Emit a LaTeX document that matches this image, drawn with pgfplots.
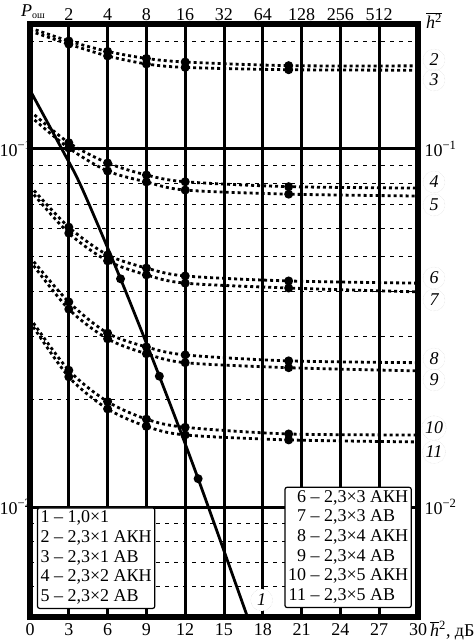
\documentclass[border=0pt]{standalone}
\usepackage{fontspec}
\setmainfont{Liberation Serif}
\usepackage{pgfplots}
\usepackage{pgfplotstable}
\pgfplotsset{compat=1.18}

% curve 1 (1,0x1)
\pgfplotstableread{
x y
0 0.146
2.46 0.100
4 0.078
7 0.0434
10 0.0232
13 0.0120
17.5 0.0042
}\tOne
\pgfplotstableread{
x a b
0 0.2178 0.2136
3 0.2003 0.1963
6 0.1873 0.1819
9 0.1790 0.1728
12 0.1750 0.1690
20 0.1709 0.1665
30 0.1707 0.1660
}\tTwo
\pgfplotstableread{
x a b
0 0.1277 0.1236
3 0.1041 0.1006
6 0.0914 0.0868
9 0.0846 0.0809
12 0.0810 0.0768
20 0.0785 0.0748
30 0.0778 0.0739
}\tFour
\pgfplotstableread{
x a b
0 0.0788 0.0768
3 0.0605 0.0582
6 0.0506 0.0487
9 0.0465 0.0445
12 0.0442 0.0422
20 0.0428 0.0409
30 0.0422 0.0399
}\tSix
\pgfplotstableread{
x a b
0 0.0499 0.0487
3 0.0374 0.0357
6 0.0306 0.0295
9 0.0280 0.0268
12 0.0266 0.0253
20 0.0256 0.0245
30 0.0253 0.0240
}\tEight
\pgfplotstableread{
x a b
0 0.0337 0.0329
3 0.0241 0.0231
6 0.0197 0.0188
9 0.0176 0.0168
12 0.0167 0.0159
20 0.0160 0.0154
30 0.0159 0.0152
}\tTen

\tikzset{
  pair/.style={black, line width=2.8pt, dash pattern=on 3pt off 3pt, smooth,
    mark=*, mark size=3pt, mark options={solid}, mark indices={2,3,4,5,6}},
  rlab/.style={font=\fontsize{18}{20}\selectfont\itshape, circle, draw=black!18,
    densely dotted, inner sep=1pt, minimum size=22pt},
}
\newcommand{\bigf}{\fontsize{18}{20}\selectfont}

\begin{document}
\begin{tikzpicture}
\useasboundingbox (0,0) rectangle (475pt,640pt);
\begin{axis}[
  at={(30pt,23pt)}, anchor=south west,
  width=388pt, height=593pt, scale only axis,
  xmin=0, xmax=30, ymode=log, ymin=0.00493, ymax=0.2234,
  xtick={0,3,...,30},
  ytick={0.01,0.1}, yticklabels={10\textsuperscript{−2},10\textsuperscript{−1}},
  minor ytick={0.006,0.007,0.008,0.009,0.02,0.03,0.04,0.05,0.06,0.07,0.08,0.09,0.2},
  grid=both,
  major grid style={line width=3pt, black},
  minor grid style={line width=1pt, black, dash pattern=on 4pt off 5pt},
  major tick length=0pt, minor tick length=0pt,
  axis line style={draw=none},
  tick label style={font=\bigf},
  xticklabel style={yshift=-3pt},
  yticklabel style={xshift=5pt},
  /pgf/number format/assume math mode=true,
  clip mode=individual,
]
\addplot[black, line width=2.8pt, smooth, mark=*, mark size=3pt, mark indices={4,5,6}] table[x=x,y=y] {\tOne};
\addplot[pair] table[x=x,y=a] {\tTwo};
\addplot[pair] table[x=x,y=b] {\tTwo};
\addplot[pair] table[x=x,y=a] {\tFour};
\addplot[pair] table[x=x,y=b] {\tFour};
\addplot[pair] table[x=x,y=a] {\tSix};
\addplot[pair] table[x=x,y=b] {\tSix};
\addplot[pair] table[x=x,y=a] {\tEight};
\addplot[pair] table[x=x,y=b] {\tEight};
\addplot[pair] table[x=x,y=a] {\tTen};
\addplot[pair] table[x=x,y=b] {\tTen};

\node[draw, fill=white, line width=1.2pt, rounded corners=2pt, anchor=south west,
  inner xsep=3pt, inner ysep=1pt, font=\fontsize{18}{19.7}\selectfont]
  at (rel axis cs:0.018,0.0135) {\begin{tabular}{@{}r@{\ –\ }l@{}}
  1&1,0×1\\ 2&2,3×1 АКН\\ 3&2,3×1 АВ\\ 4&2,3×2 АКН\\ 5&2,3×2 АВ\end{tabular}};
\node[draw, fill=white, line width=1.2pt, rounded corners=2pt, anchor=south east,
  inner xsep=3pt, inner ysep=1pt, font=\fontsize{18}{19.7}\selectfont]
  at (rel axis cs:0.984,0.015) {\begin{tabular}{@{}r@{\ –\ }l@{}}
  6&2,3×3 АКН\\ 7&2,3×3 АВ\\ 8&2,3×4 АКН\\ 9&2,3×4 АВ\\ 10&2,3×5 АКН\\ 11&2,3×5 АВ\end{tabular}};
\node[rlab, fill=white] at (rel axis cs:0.597,0.0287) {1};

\node[rlab] at (rel axis cs:1,0.9393) [xshift=16pt] {2};
\node[rlab] at (rel axis cs:1,0.9056) [xshift=16pt] {3};
\node[rlab] at (rel axis cs:1,0.7336) [xshift=16pt] {4};
\node[rlab] at (rel axis cs:1,0.6948) [xshift=16pt] {5};
\node[rlab] at (rel axis cs:1,0.5717) [xshift=16pt] {6};
\node[rlab] at (rel axis cs:1,0.5346) [xshift=16pt] {7};
\node[rlab] at (rel axis cs:1,0.4351) [xshift=16pt] {8};
\node[rlab] at (rel axis cs:1,0.3997) [xshift=16pt] {9};
\node[rlab] at (rel axis cs:1,0.3187) [xshift=16pt] {10};
\node[rlab] at (rel axis cs:1,0.2782) [xshift=16pt] {11};

\node[anchor=base west, font=\bigf, inner sep=0pt] at (rel axis cs:0,1) [xshift=-9pt, yshift=7pt]
  {\textit{P}\raisebox{-2pt}{\fontsize{10}{10}\selectfont ош}};
\node[anchor=base west, font=\bigf, inner sep=0pt] at (rel axis cs:1,1) [xshift=8pt, yshift=-5pt]
  {$\overline{\mbox{\textit{h}\textsuperscript{2}}}$};
\node[anchor=base west, font=\bigf, inner sep=0pt] at (rel axis cs:1,0) [xshift=12pt, yshift=-19pt]
  {$\overline{\mbox{\textit{h}}}$\textsuperscript{2}, дБ};
\end{axis}

\begin{axis}[
  at={(30pt,23pt)}, anchor=south west,
  width=388pt, height=593pt, scale only axis,
  xmin=0, xmax=30, ymode=log, ymin=0.00493, ymax=0.2234,
  xtick={3,6,...,27}, xticklabels={2,4,8,16,32,64,128,256,512}, xticklabel pos=top,
  ytick={0.01,0.1}, yticklabels={10\textsuperscript{−2},10\textsuperscript{−1}}, yticklabel pos=right,
  minor ytick={}, minor xtick={},
  major tick length=0pt, minor tick length=0pt,
  axis line style={line width=6pt, black},
  tick label style={font=\bigf},
  yticklabel style={xshift=3pt},
  /pgf/number format/assume math mode=true,
]
\addplot[draw=none] coordinates {(1,0.1)};
\end{axis}
\end{tikzpicture}
\end{document}
